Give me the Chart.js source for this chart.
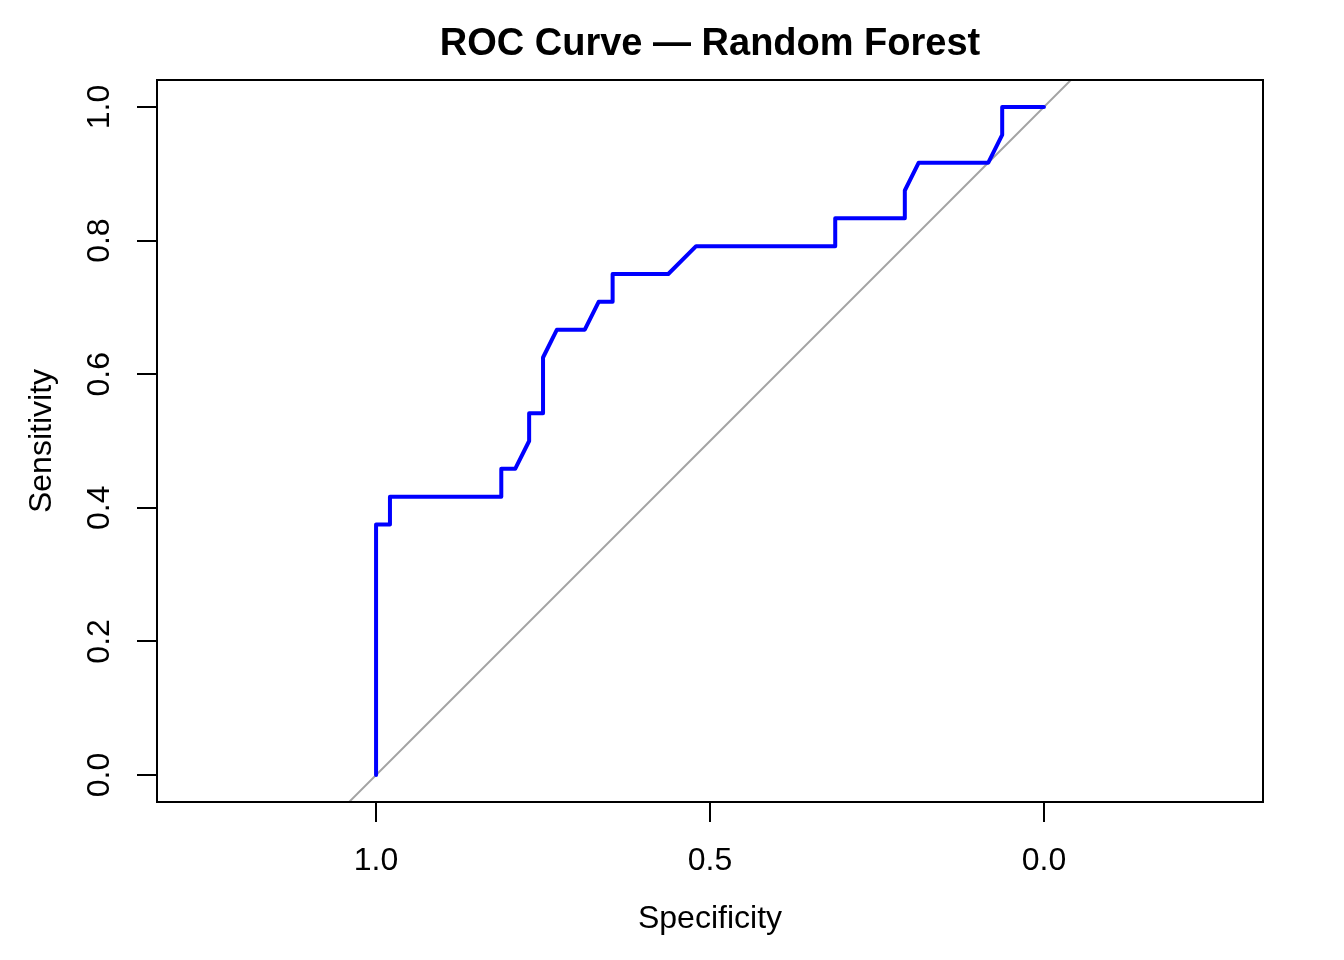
<!DOCTYPE html>
<html>
<head>
<meta charset="utf-8">
<script src="https://cdn.jsdelivr.net/npm/chart.js@4.4.1/dist/chart.umd.min.js"></script>
<style>
  html, body { margin: 0; padding: 0; background: #fff; }
  #wrap { width: 1344px; height: 960px; }
</style>
</head>
<body>
<div id="wrap"><canvas id="rocChart" width="1344" height="960"></canvas></div>
<script>
// ROC points (specificity runs from 1 down to 0)
const specificity = [1.0, 1.0, 0.9792, 0.9792, 0.8125, 0.8125, 0.7917, 0.7708, 0.7708, 0.75, 0.75,
  0.7292, 0.6875, 0.6667, 0.6458, 0.6458, 0.5625, 0.5208, 0.3125, 0.3125, 0.2083, 0.2083,
  0.1875, 0.0833, 0.0625, 0.0625, 0.0];
const sensitivity = [0.0, 0.375, 0.375, 0.4167, 0.4167, 0.4583, 0.4583, 0.5, 0.5417, 0.5417, 0.625,
  0.6667, 0.6667, 0.7083, 0.7083, 0.75, 0.75, 0.7917, 0.7917, 0.8333, 0.8333, 0.875,
  0.9167, 0.9167, 0.9583, 1.0, 1.0];

// chance line (sens = 1 - spec), clipped by the plot box
const diagSpec = [1.5, -0.5];
const diagSens = [-0.5, 1.5];

const xTicks = [1.0, 0.5, 0.0];
const yTicks = [0.0, 0.2, 0.4, 0.6, 0.8, 1.0];

const FONT = '"Liberation Sans", Arial, Helvetica, sans-serif';

const toPoints = (xs, ys) => xs.map((x, i) => ({ x: x, y: ys[i] }));

// R style title and box round the plot region
const rPlotFrame = {
  id: 'rPlotFrame',
  afterDatasetsDraw(chart) {
    const { ctx, chartArea: a } = chart;
    ctx.save();
    ctx.strokeStyle = '#000';
    ctx.lineWidth = 2;
    ctx.strokeRect(a.left, a.top, a.right - a.left, a.bottom - a.top);
    ctx.restore();
  },
  afterDraw(chart) {
    const { ctx, chartArea: a } = chart;
    ctx.save();
    ctx.fillStyle = '#000';
    ctx.font = 'bold 38px ' + FONT;
    ctx.textAlign = 'center';
    ctx.textBaseline = 'alphabetic';
    ctx.fillText('ROC Curve \u2014 Random Forest', (a.left + a.right) / 2, 55);
    ctx.restore();
  }
};

const ctx = document.getElementById('rocChart').getContext('2d');
const rocChart = new Chart(ctx, {
  type: 'scatter',
  data: {
    datasets: [
      {
        label: 'Random Forest',
        data: toPoints(specificity, sensitivity),
        showLine: true,
        borderColor: '#0000ff',
        borderWidth: 4,
        borderJoinStyle: 'round',
        borderCapStyle: 'round',
        pointRadius: 0,
        tension: 0,
        fill: false,
      },
      {
        label: 'identity',
        data: toPoints(diagSpec, diagSens),
        showLine: true,
        borderColor: '#a3a3a3',
        borderWidth: 2,
        pointRadius: 0,
        fill: false,
        clip: 0,
      },
    ],
  },
  options: {
    responsive: false,
    devicePixelRatio: 1,
    animation: false,
    layout: { padding: { top: 80, right: 81, left: 0, bottom: 0 } },
    plugins: {
      legend: { display: false },
      tooltip: { enabled: false },
      title: { display: false },
    },
    scales: {
      x: {
        type: 'linear',
        reverse: true,
        min: -0.328,
        max: 1.328,
        afterBuildTicks: (s) => { s.ticks = xTicks.map(v => ({ value: v })); },
        afterFit: (s) => { s.height = 158; },
        border: { display: false },
        grid: { drawOnChartArea: false, drawTicks: true, tickLength: 20, tickColor: '#000', lineWidth: 2 },
        ticks: {
          color: '#000',
          padding: 23,
          maxRotation: 0,
          font: { family: FONT, size: 32, lineHeight: 1 },
          callback: (v) => Number(v).toFixed(1),
        },
        title: {
          display: true,
          text: 'Specificity',
          color: '#000',
          font: { family: FONT, size: 32, lineHeight: 1 },
          padding: { top: 0, bottom: 25 },
        },
      },
      y: {
        type: 'linear',
        min: -0.0404,
        max: 1.0404,
        afterBuildTicks: (s) => { s.ticks = yTicks.map(v => ({ value: v })); },
        afterFit: (s) => { s.width = 157; },
        border: { display: false },
        grid: { drawOnChartArea: false, drawTicks: true, tickLength: 20, tickColor: '#000', lineWidth: 2 },
        ticks: {
          color: '#000',
          padding: 15,
          minRotation: 90,
          maxRotation: 90,
          crossAlign: 'center',
          font: { family: FONT, size: 32, lineHeight: 1 },
          callback: (v) => Number(v).toFixed(1),
        },
        title: {
          display: true,
          text: 'Sensitivity',
          color: '#000',
          font: { family: FONT, size: 32, lineHeight: 1 },
          padding: { top: 26, bottom: 0 },
        },
      },
    },
  },
  plugins: [rPlotFrame],
});
</script>
</body>
</html>
